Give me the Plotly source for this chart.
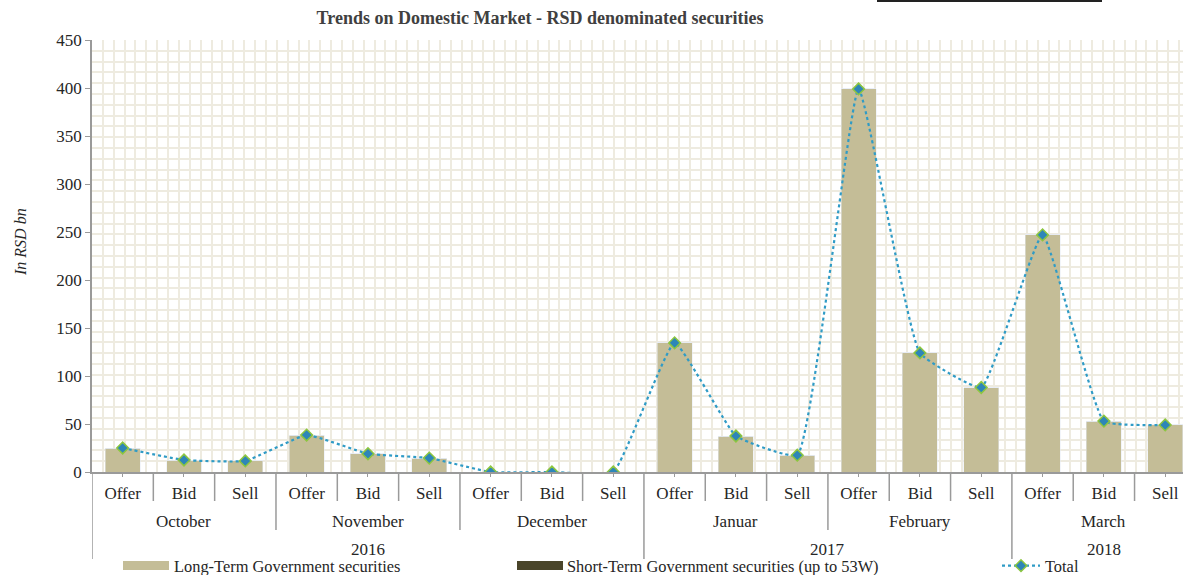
import plotly.graph_objects as go

# ---------------- data ----------------
months = ["October", "November", "December", "Januar", "February", "March"]
month_years = ["2016", "2016", "2016", "2017", "2017", "2018"]
types = ["Offer", "Bid", "Sell"]

long_term = [25, 12.5, 11.5, 38.5, 19, 14.5, 0, 0, 0,
             134.5, 37.5, 17.5, 399, 124, 88, 247, 53, 49]
short_term = [0] * 18
total = [25, 12.5, 11.5, 38.5, 19, 14.5, 0, 0, 0,
         134.5, 37.5, 17.5, 399, 124, 88, 247, 53, 49]

cat_labels = [t for m in months for t in types]
cat_months = [m for m in months for t in types]
cat_years = [y for y in month_years for t in types]
xpos = list(range(len(cat_labels)))

# ---------------- style ----------------
FONT = "Liberation Serif, Times New Roman, serif"
TXT = "#262626"
AX = "#9A9A9A"
GRID = "#EEEBE0"
W, H = 1183, 575
L, T, B = 92, 40, 103
PW, PH = W - L, H - T - B
FS = 17
LFS = 16.4

fig = go.Figure()
fig.add_bar(x=xpos, y=long_term, name="Long-Term Government securities",
            marker_color="#C4BD97", width=0.57, showlegend=False)
fig.add_bar(x=xpos, y=short_term, name="Short-Term Government securities (up to 53W)",
            marker_color="#4A452A", width=0.57, showlegend=False)
fig.add_scatter(x=xpos, y=total, name="Total", mode="lines+markers",
                line=dict(color="#2F9BC6", width=2.2, dash="dot", shape="spline", smoothing=0.35),
                marker=dict(symbol="diamond", size=9, color="#2E86B8",
                            line=dict(color="#8DC63F", width=1.5)))

fig.update_layout(
    width=W, height=H,
    margin=dict(l=L, r=0, t=T, b=B, autoexpand=False),
    paper_bgcolor="white", plot_bgcolor="white",
    barmode="stack",
    font=dict(family=FONT, size=FS, color=TXT),
    title=dict(text="<b>Trends on Domestic Market - RSD denominated securities</b>",
               x=540 / W, xanchor="center", xref="container",
               y=1 - 18 / H, yanchor="middle", yref="container",
               font=dict(size=18, color="#404040")),
    showlegend=True,
    legend=dict(orientation="h", xref="container", yref="container",
                x=997 / W, xanchor="left", y=1 - 566 / H, yanchor="middle",
                bgcolor="rgba(0,0,0,0)", font=dict(size=LFS), itemwidth=38),
    xaxis=dict(range=[-0.5, 17.29], tickvals=xpos, ticktext=cat_labels,
               showgrid=False, zeroline=False, showline=True, linecolor=AX, linewidth=1.5,
               ticks="outside", ticklen=3, tickcolor=AX, ticklabelstandoff=2,
               tickfont=dict(size=FS, color=TXT), automargin=False),
    yaxis=dict(range=[0, 450], dtick=50, showgrid=False, zeroline=False,
               showline=True, linecolor=AX, linewidth=1.5,
               ticks="outside", ticklen=5, tickcolor=AX,
               tickfont=dict(size=FS, color=TXT), automargin=False),
    # overlay axes used only for the lattice background pattern
    xaxis2=dict(overlaying="x", range=[0, PW], dtick=10.87, tick0=0, showgrid=True,
                gridcolor=GRID, gridwidth=2, showticklabels=False, zeroline=False,
                ticks="", showline=False),
    yaxis2=dict(overlaying="y", range=[0, PH], dtick=10.8, tick0=0, showgrid=True,
                gridcolor=GRID, gridwidth=2, showticklabels=False, zeroline=False,
                ticks="", showline=False),
)
# dummy trace to activate the overlay axes (no data)
fig.add_scatter(x=[None], y=[None], xaxis="x2", yaxis="y2", showlegend=False, hoverinfo="skip")


def ypx(py):
    return (T + PH - py) / PH  # pixel y -> paper y


def xpx(px):
    return (px - L) / PW


# ---------------- multi-level category dividers ----------------
shapes = []
n = len(cat_labels)
for i in range(0, n):
    xb = i - 0.5
    if i == 0 or cat_years[i] != cat_years[i - 1]:
        bottom = 559
    elif cat_months[i] != cat_months[i - 1]:
        bottom = 530
    else:
        bottom = 501
    shapes.append(dict(type="line", xref="x", yref="paper", x0=xb, x1=xb,
                       y0=0, y1=ypx(bottom), line=dict(color=AX, width=1.5)))

# top-right stray border line from the source
shapes.append(dict(type="line", xref="paper", yref="paper",
                   x0=xpx(877), x1=xpx(1102), y0=ypx(1), y1=ypx(1),
                   line=dict(color="#222222", width=2)))

# legend swatches for bar series
shapes.append(dict(type="rect", xref="paper", yref="paper",
                   x0=xpx(123), x1=xpx(169), y0=ypx(570), y1=ypx(561),
                   fillcolor="#C4BD97", line=dict(width=0)))
shapes.append(dict(type="rect", xref="paper", yref="paper",
                   x0=xpx(517), x1=xpx(563), y0=ypx(570), y1=ypx(561),
                   fillcolor="#4A452A", line=dict(width=0)))
fig.update_layout(shapes=shapes)

annotations = []
# month labels
for m in months:
    idx = [i for i, cm in enumerate(cat_months) if cm == m]
    annotations.append(dict(text=m, xref="x", yref="paper", x=(idx[0] + idx[-1]) / 2,
                            y=ypx(521), showarrow=False, yanchor="middle",
                            font=dict(size=FS, color=TXT)))
# year labels
seen = []
for y in cat_years:
    if y not in seen:
        seen.append(y)
for y in seen:
    idx = [i for i, cy in enumerate(cat_years) if cy == y]
    annotations.append(dict(text=y, xref="x", yref="paper", x=(idx[0] + idx[-1]) / 2,
                            y=ypx(549), showarrow=False, yanchor="middle",
                            font=dict(size=FS, color=TXT)))
# y axis title
annotations.append(dict(text="<i>In RSD bn</i>", xref="paper", yref="paper",
                        x=xpx(20), y=ypx(242), textangle=-90, showarrow=False,
                        xanchor="center", yanchor="middle", font=dict(size=16, color=TXT)))
# bar legend texts
annotations.append(dict(text="Long-Term Government securities", xref="paper", yref="paper",
                        x=xpx(172), y=ypx(566), xanchor="left", yanchor="middle",
                        showarrow=False, font=dict(size=LFS, color=TXT)))
annotations.append(dict(text="Short-Term Government securities (up to 53W)", xref="paper",
                        yref="paper", x=xpx(565), y=ypx(566), xanchor="left",
                        yanchor="middle", showarrow=False, font=dict(size=LFS, color=TXT)))
fig.update_layout(annotations=annotations)

fig.write_html("out.html", config={"displayModeBar": False},
               post_script="document.body.style.margin='0';document.body.style.overflow='hidden';")
